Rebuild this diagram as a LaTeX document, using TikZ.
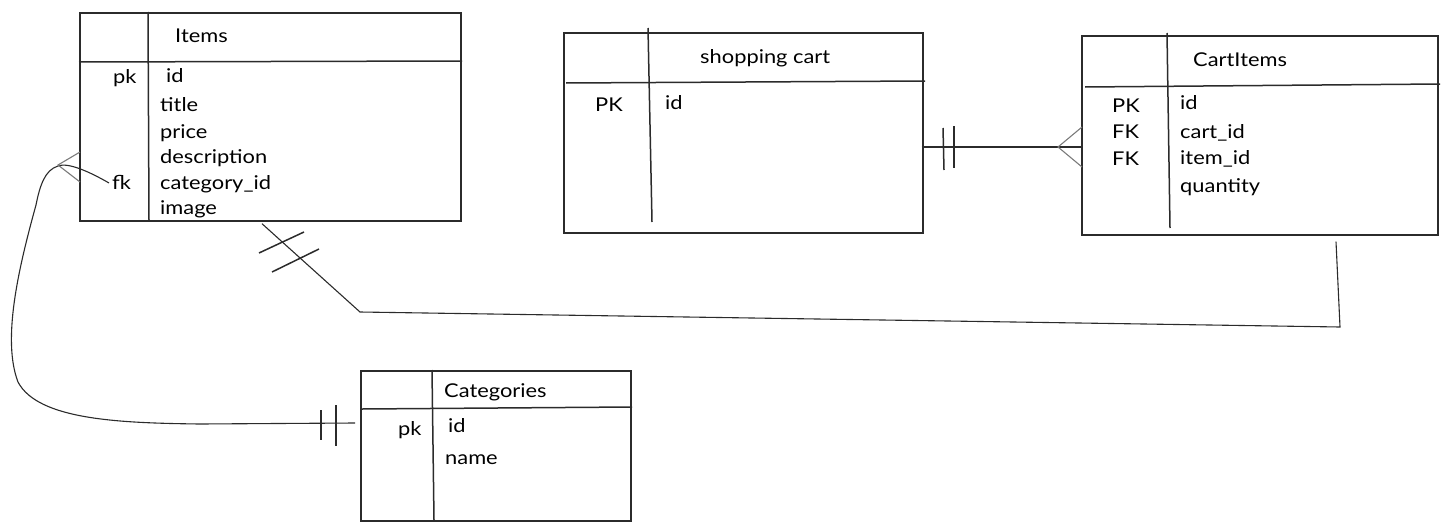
\documentclass[tikz,border=0pt]{standalone}
\usepackage{fontspec}
\setmainfont{Lato}[FakeStretch=1.15]
\usetikzlibrary{calc}
\definecolor{ink}{HTML}{2B2B2B}
\definecolor{inklight}{HTML}{7A7A7A}
\tikzset{
  tbl/.style={draw=ink, line width=1.7pt, rectangle, anchor=north west, inner sep=0pt},
  rule/.style={draw=ink, line width=1.5pt},
  conn/.style={draw=ink, line width=1.1pt},
  bar/.style={draw=ink, line width=1.5pt},
  crow/.style={draw=inklight, line width=1.1pt},
  txt/.style={anchor=west, inner sep=0pt, yshift=-2.5pt, font=\fontsize{19}{21}\selectfont, text=black, text height=13pt, text depth=4pt},
}
\begin{document}
\begin{tikzpicture}[x=1pt,y=-1pt]
\useasboundingbox (0,0) rectangle (1453,530);
% tables
\node[tbl, minimum width=381pt, minimum height=208pt] (items) at (79,12) {};
\node[tbl, minimum width=359pt, minimum height=200pt] (cart) at (563,32) {};
\node[tbl, minimum width=356pt, minimum height=199pt] (cartitems) at (1081,35) {};
\node[tbl, minimum width=270pt, minimum height=150pt] (cats) at (360,370) {};
% inner rules
\draw[rule] (79,62) -- (462,61);
\draw[rule] (148,12) -- (149,220);
\draw[rule] (566,83) -- (925,81);
\draw[rule] (648,28) -- (652,222);
\draw[rule] (1085,87) -- (1440,84);
\draw[rule] (1167,33) -- (1170,228);
\draw[rule] (362,409) -- (632,407);
\draw[rule] (432,370) -- (434,520);
% Items text
\node[txt] (itemsT) at (175,35) {Items};
\node[txt] (ipk) at (113,76) {pk};
\node[txt] (iid) at (166,75) {id};
\node[txt] (ititle) at (160,104) {title};
\node[txt] (iprice) at (160,131) {price};
\node[txt] (idesc) at (160,156) {description};
\node[txt] (icat) at (160,182) {category\_id};
\node[txt] (ifk) at (112,182) {fk};
\node[txt] (iimg) at (160,207) {image};
% shopping cart text
\node[txt] (cartT) at (700,56) {shopping cart};
\node[txt] (cpk) at (595,104) {PK};
\node[txt] (cid) at (665,102) {id};
% CartItems text
\node[txt] (ciT) at (1193,59) {CartItems};
\node[txt] (cipk) at (1112,105) {PK};
\node[txt] (cifk1) at (1112,131) {FK};
\node[txt] (cifk2) at (1112,158) {FK};
\node[txt] (ciid) at (1180,102) {id};
\node[txt] (cicart) at (1180,131) {cart\_id};
\node[txt] (ciitem) at (1180,157) {item\_id};
\node[txt] (ciqty) at (1180,185) {quantity};
% Categories text
\node[txt] (catT) at (444,390) {Categories};
\node[txt] (catpk) at (398,428) {pk};
\node[txt] (catid) at (448,425) {id};
\node[txt] (catname) at (445,457) {name};
% connector: shopping cart -- CartItems
\coordinate (c1) at ($(cart.north east)+(-2,115)$);
\coordinate (c2) at ($(cartitems.north west)+(0,112)$);
\draw[conn] (c1) -- (c2);
\draw[bar] (943,128) -- (944,170);
\draw[bar] (954,126) -- (954,168);
\draw[crow] ($(cartitems.north west)+(1,92)$) -- (1058,147) -- ($(cartitems.north west)+(1,132)$);
% connector: Items -- CartItems
\coordinate (d1) at ($(items.south west)+(183,2)$);
\coordinate (d2) at (360,312);
\coordinate (d3) at (1340,327);
\coordinate (d4) at ($(cartitems.south west)+(255,6)$);
\draw[conn] (d1) -- (d2) -- (d3) -- (d4);
\draw[bar] (259,253) -- (304,232);
\draw[bar] (272,272) -- (319,249);
% connector: Items (fk) -- Categories
\coordinate (e2) at ($(cats.north west)+(-5,53)$);
\draw[conn] ($(ifk.west)+(-3,-1.5)$) .. controls (90,172) and (68,162) .. (58,166)
  .. controls (45,170) and (40,185) .. (36,205)
  .. controls (18,270) and (2,340) .. (18,382)
  .. controls (38,420) and (120,423) .. (200,424) -- (e2);
\draw[bar] (321,410) -- (321,440);
\draw[bar] (336,405) -- (336,446);
\draw[crow] ($(items.north west)+(1,140)$) -- (58,165) -- ($(items.north west)+(1,170)$);
\end{tikzpicture}
\end{document}
